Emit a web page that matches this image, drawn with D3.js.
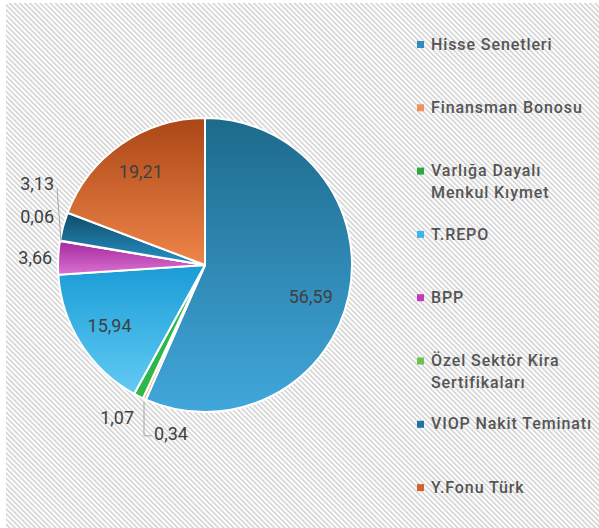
<!DOCTYPE html>
<html>
<head>
<meta charset="utf-8">
<script src="https://cdn.jsdelivr.net/npm/d3@7"></script>
<style>
  body { margin: 0; background: #fff; }
  text { font-family: Roboto, "Liberation Sans", sans-serif; }
</style>
</head>
<body>
<div id="chart"></div>
<script>
// chart data
var categories = ["Hisse Senetleri", "Finansman Bonosu", "Varlığa Dayalı Menkul Kıymet", "T.REPO",
                  "BPP", "Özel Sektör Kira Sertifikaları", "VIOP Nakit Teminatı", "Y.Fonu Türk"];
var legendLines = [["Hisse Senetleri"], ["Finansman Bonosu"], ["Varlığa Dayalı", "Menkul Kıymet"], ["T.REPO"],
                   ["BPP"], ["Özel Sektör Kira", "Sertifikaları"], ["VIOP Nakit Teminatı"], ["Y.Fonu Türk"]];
var values = [56.59, 0.34, 1.07, 15.94, 3.66, 0.06, 3.13, 19.21];
var valueLabels = ["56,59", "0,34", "1,07", "15,94", "3,66", "0,06", "3,13", "19,21"];
var colorTop = ["#1d6a8b", "#e57a40", "#2eb84c", "#1a9cd6", "#a4289d", "#6cc24a", "#0e4c6a", "#ab4616"];
var colorBottom = ["#41a7db", "#f7a577", "#2eb84c", "#62cbf3", "#da72d2", "#6cc24a", "#2793c6", "#ee8549"];
var legendColors = ["#2e8cc0", "#f0915c", "#2ca83c", "#3bb6e8", "#c23cb9", "#6cc24a", "#1f74a3", "#d2632b"];

function init() {
    var w = 599, h = 528;
    var cx = 205, cy = 265, r = 147;
    var labelSize = 18;

    var svg = d3.select("#chart").append("svg")
        .attr("width", w).attr("height", h);

    var defs = svg.append("defs");

    // striped background
    var pat = defs.append("pattern")
        .attr("id", "stripes")
        .attr("patternUnits", "userSpaceOnUse")
        .attr("width", 3.6).attr("height", 3.6)
        .attr("patternTransform", "rotate(-45)");
    pat.append("rect").attr("width", 3.6).attr("height", 3.6).attr("fill", "#ffffff");
    pat.append("rect").attr("width", 1.7).attr("height", 3.6).attr("fill", "#d6d6d6");

    svg.append("rect")
        .attr("x", 6).attr("y", 3)
        .attr("width", w - 6).attr("height", h - 3)
        .attr("fill", "url(#stripes)");

    // gradients per slice
    values.forEach(function(v, i) {
        var g = defs.append("linearGradient")
            .attr("id", "grad" + i)
            .attr("x1", 0).attr("y1", 0).attr("x2", 0).attr("y2", 1);
        g.append("stop").attr("offset", "0%").attr("stop-color", colorTop[i]);
        g.append("stop").attr("offset", "100%").attr("stop-color", colorBottom[i]);
    });

    var pie = d3.pie().sort(null).value(function(d) { return d; });
    var arcs = pie(values);

    var arc = d3.arc().innerRadius(0).outerRadius(r);

    var g = svg.append("g").attr("transform", "translate(" + cx + "," + cy + ")");

    g.selectAll("path.slice")
        .data(arcs)
        .enter().append("path")
        .attr("class", "slice")
        .attr("d", arc)
        .attr("fill", function(d, i) { return "url(#grad" + i + ")"; })
        .attr("stroke", "#fff")
        .attr("stroke-width", 2)
        .attr("stroke-linejoin", "round");

    function mid(d) { return (d.startAngle + d.endAngle) / 2; }
    function pt(a, rad) { return [Math.sin(a) * rad, -Math.cos(a) * rad]; }

    // inside labels for big slices
    var big = arcs.filter(function(d) { return d.value > 10; });
    g.selectAll("text.inlabel")
        .data(big)
        .enter().append("text")
        .attr("class", "inlabel")
        .attr("x", function(d) { return pt(mid(d), r * 0.77)[0] + (d.value > 50 ? -5 : 0); })
        .attr("y", function(d) { return pt(mid(d), r * 0.77)[1] + (d.value > 50 ? 8 : 0); })
        .attr("dy", "0.35em")
        .attr("text-anchor", "middle")
        .attr("fill", "#404040")
        .attr("font-size", labelSize)
        .text(function(d) { return valueLabels[d.index]; });

    // outside labels for small slices
    var lineColor = "#a6a6a6";
    var labelG = g.append("g");

    function outLabel(x, y, anchor, i) {
        labelG.append("text").attr("x", x).attr("y", y).attr("dy", "0.35em")
            .attr("text-anchor", anchor).attr("fill", "#404040").attr("font-size", labelSize)
            .text(valueLabels[i]);
    }

    // BPP (3,66)
    var pB = pt(mid(arcs[4]), r + 6);
    outLabel(pB[0], pB[1], "end", 4);

    // Özel (0,06) and VIOP (3,13): stacked upward
    var pO = pt(mid(arcs[5]), r + 6);
    var yO = pO[1] - 23;
    var yV = yO - 33;
    outLabel(pO[0], yO, "end", 5);
    outLabel(pO[0], yV, "end", 6);
    var eO = pt(mid(arcs[5]), r - 1);
    labelG.append("path")
        .attr("d", d3.line()([[pO[0] + 3, yV + 5], [eO[0], eO[1]]]))
        .attr("fill", "none").attr("stroke", lineColor).attr("stroke-width", 1);

    // Varlığa (1,07)
    var pVa = pt(mid(arcs[2]), r + 10);
    outLabel(pVa[0], pVa[1] + 13, "end", 2);

    // Finansman (0,34) with elbow leader
    var eF = pt(mid(arcs[1]), r + 1);
    var yF = eF[1] + 36;
    labelG.append("path")
        .attr("d", d3.line()([[eF[0], eF[1] + 2], [eF[0], yF], [eF[0] + 8, yF]]))
        .attr("fill", "none").attr("stroke", lineColor).attr("stroke-width", 1);
    outLabel(eF[0] + 10, yF - 2, "start", 1);

    // legend
    var legend = svg.append("g").attr("transform", "translate(417,44)");
    var item = legend.selectAll("g.item")
        .data(categories)
        .enter().append("g")
        .attr("class", "item")
        .attr("transform", function(d, i) { return "translate(0," + (i * 63.3) + ")"; });

    item.append("rect")
        .attr("x", 0).attr("y", -3)
        .attr("width", 7).attr("height", 7)
        .attr("fill", function(d, i) { return legendColors[i]; });

    item.append("text")
        .attr("x", 14)
        .attr("fill", "#555555")
        .attr("font-size", 16)
        .attr("font-weight", 500)
        .attr("letter-spacing", 0.9)
        .selectAll("tspan")
        .data(function(d, i) { return legendLines[i]; })
        .enter().append("tspan")
        .attr("x", 14)
        .attr("y", function(d, j) { return j * 22; })
        .attr("dy", "0.35em")
        .text(function(d) { return d; });
}
window.onload = init;
</script>
</body>
</html>
